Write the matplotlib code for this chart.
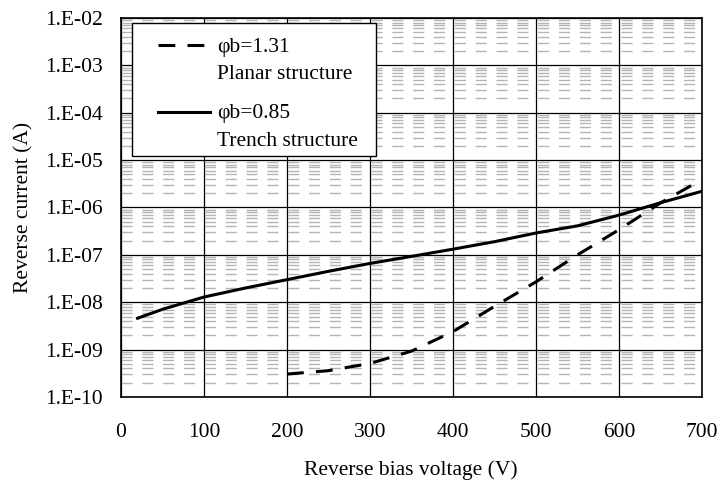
import matplotlib.pyplot as plt
import matplotlib.ticker as ticker
from matplotlib.lines import Line2D
from matplotlib.patches import Rectangle
import numpy as np

plt.rcParams['font.family'] = ['Liberation Serif', 'DejaVu Serif']
plt.rcParams['font.size'] = 15.5

# trench structure (phi_b = 0.85)
v_trench = [20, 50, 100, 150, 200, 250, 300, 350, 400, 450, 500, 550, 600, 650, 700]
i_trench = [4.6e-9, 7.1e-9, 1.29e-8, 2.0e-8, 3.0e-8, 4.5e-8, 6.6e-8, 9.3e-8,
            1.32e-7, 1.9e-7, 2.9e-7, 4.1e-7, 6.9e-7, 1.26e-6, 2.2e-6]

# planar structure (phi_b = 1.31)
v_planar = [200, 250, 300, 350, 400, 450, 500, 550, 600, 650, 700]
i_planar = [3.05e-10, 3.6e-10, 5.1e-10, 9.3e-10, 2.4e-9, 8.2e-9, 2.7e-8,
            1.0e-7, 3.4e-7, 1.25e-6, 3.9e-6]

x_ticks = [0, 100, 200, 300, 400, 500, 600, 700]

fig = plt.figure(figsize=(7.19, 4.86), dpi=100)
ax = fig.add_axes([0.1683, 0.1831, 0.8081, 0.7799])

ax.set_yscale('log')
ax.set_xlim(0, 700)
ax.set_ylim(1e-10, 1e-2)
ax.set_xticks(x_ticks)
ax.yaxis.set_major_locator(ticker.LogLocator(base=10, numticks=20))
ax.yaxis.set_minor_locator(ticker.LogLocator(base=10, subs=np.arange(2, 10), numticks=20))
ax.yaxis.set_major_formatter(ticker.FuncFormatter(lambda v, p: "1.E%03d" % int(round(np.log10(v)))))
ax.yaxis.set_minor_formatter(ticker.NullFormatter())

ax.grid(which='minor', axis='y', color='#b4b4b4', linestyle=(0, (8, 7)), linewidth=1.0, zorder=0)
ax.grid(which='major', axis='both', color='black', linewidth=0.9, zorder=1)
ax.set_axisbelow(True)

ax.tick_params(which='both', length=0)
ax.tick_params(axis='x', pad=19)
ax.tick_params(axis='y', pad=13)
for s in ax.spines.values():
    s.set_linewidth(1.2)

ax.plot(v_planar, i_planar, color='black', linewidth=2.2, linestyle=(0, (5.5, 4)), zorder=3)
ax.plot(v_trench, i_trench, color='black', linewidth=2.2, zorder=3)

ax.set_xlabel('Reverse bias voltage (V)')
ax.set_ylabel('Reverse current (A)')
ax.xaxis.set_label_coords(0.499, -0.168)
ax.yaxis.set_label_coords(-0.150, 0.50)

### legend box drawn by hand (uneven spacing in the original)
box = Rectangle((0.019, 0.636), 0.42, 0.352, transform=ax.transAxes,
                facecolor='white', edgecolor='black', linewidth=1.0, zorder=5)
ax.add_patch(box)
ax.add_line(Line2D([0.064, 0.153], [0.929, 0.929], transform=ax.transAxes, color='black',
                   linewidth=2.2, linestyle=(0, (5.5, 4)), zorder=6))
ax.add_line(Line2D([0.064, 0.153], [0.753, 0.753], transform=ax.transAxes, color='black',
                   linewidth=2.2, zorder=6))
for ty, txt in [(0.921, 'φb=1.31'), (0.850, 'Planar structure'),
                (0.747, 'φb=0.85'), (0.675, 'Trench structure')]:
    ax.text(0.165, ty, txt, transform=ax.transAxes, va='center', ha='left', zorder=6)

plt.savefig('out.png', dpi=100)
